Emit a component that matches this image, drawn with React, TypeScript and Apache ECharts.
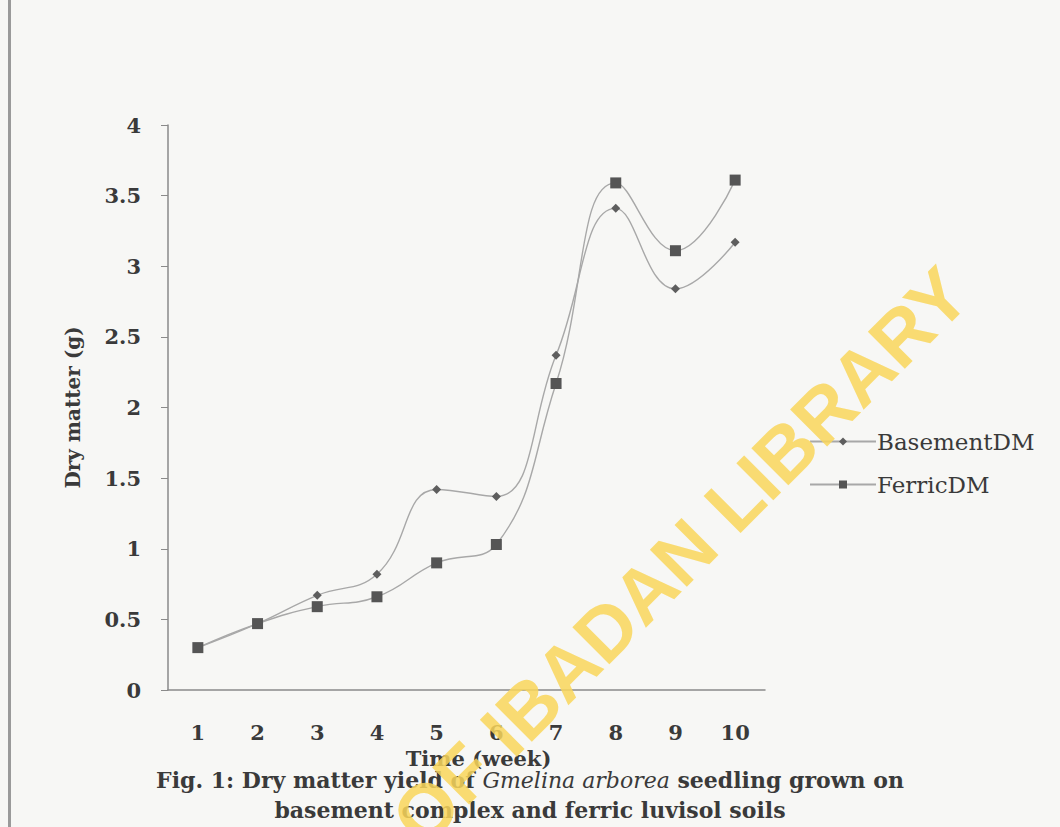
import React, { useEffect, useRef } from "react";
import * as echarts from "echarts";

const weeks = ["1", "2", "3", "4", "5", "6", "7", "8", "9", "10"];
const basementDM = [0.3, 0.47, 0.67, 0.82, 1.42, 1.37, 2.37, 3.41, 2.84, 3.17];
const ferricDM = [0.3, 0.47, 0.59, 0.66, 0.9, 1.03, 2.17, 3.59, 3.11, 3.61];
const seriesNames = ["BasementDM", "FerricDM"];

const serif = "'DejaVu Serif', 'Liberation Serif', serif";
const ink = "#3a3a3a";

export default function App() {
  const ref = useRef<HTMLDivElement>(null);
  useEffect(() => {
    if (!ref.current) return;
    const chart = echarts.init(ref.current, null, { renderer: "svg" });
    chart.setOption({
      animation: false,
      backgroundColor: "#f7f7f5",
      grid: { left: 168, right: 295, top: 125, bottom: 137, containLabel: false },
      legend: {
        orient: "vertical",
        left: 804,
        top: 425,
        itemGap: 20,
        itemWidth: 66,
        itemHeight: 10,
        data: seriesNames,
        textStyle: { fontFamily: serif, fontSize: 23, color: ink, padding: [0, 0, 0, -4] },
      },
      xAxis: {
        type: "category",
        data: weeks,
        boundaryGap: true,
        name: "Time (week)",
        nameLocation: "middle",
        nameGap: 48,
        nameTextStyle: {
          fontFamily: serif,
          fontSize: 21,
          fontWeight: "bold",
          color: ink,
          padding: [0, 0, 0, 24],
        },
        axisLine: { lineStyle: { color: "#8a8a8a", width: 1.5 } },
        axisTick: { show: false },
        axisLabel: { fontFamily: serif, fontSize: 21, fontWeight: "bold", color: ink, margin: 32 },
        splitLine: { show: false },
      },
      yAxis: {
        type: "value",
        min: 0,
        max: 4,
        interval: 0.5,
        name: "Dry matter (g)",
        nameLocation: "middle",
        nameGap: 85,
        nameRotate: 90,
        nameTextStyle: { fontFamily: serif, fontSize: 20, fontWeight: "bold", color: ink },
        axisLine: { show: true, lineStyle: { color: "#8a8a8a", width: 1.5 } },
        axisTick: { show: true, length: 7, lineStyle: { color: "#8a8a8a" } },
        axisLabel: { fontFamily: serif, fontSize: 21, fontWeight: "bold", color: ink, margin: 27 },
        splitLine: { show: false },
      },
      series: [
        {
          name: seriesNames[0],
          type: "line",
          data: basementDM,
          smooth: 0.45,
          symbol: "diamond",
          symbolSize: 9,
          itemStyle: { color: "#5e5e5e" },
          lineStyle: { color: "#a8a8a8", width: 1.4 },
        },
        {
          name: seriesNames[1],
          type: "line",
          data: ferricDM,
          smooth: 0.45,
          symbol: "rect",
          symbolSize: 11,
          itemStyle: { color: "#555" },
          lineStyle: { color: "#a8a8a8", width: 1.4 },
        },
      ],
      graphic: [
        {
          type: "rect",
          left: 8,
          top: 0,
          shape: { width: 3, height: 827 },
          style: { fill: "#9a9a9a" },
          silent: true,
        },
        {
          type: "text",
          left: "center",
          top: 769,
          style: {
            text: "{b|Fig. 1: Dry matter yield of }{i|Gmelina arborea}{b| seedling grown on}",
            rich: {
              b: { fontFamily: serif, fontSize: 22, fontWeight: "bold", fill: ink },
              i: { fontFamily: serif, fontSize: 22, fontStyle: "italic", fill: ink },
            },
          },
        },
        {
          type: "text",
          left: "center",
          top: 799,
          style: {
            text: "basement complex and ferric luvisol soils",
            fontFamily: serif,
            fontSize: 22,
            fontWeight: "bold",
            fill: ink,
          },
        },
        {
          type: "text",
          x: 680,
          y: 556,
          rotation: 0.785,
          z: 100,
          style: {
            text: "OF IBADAN LIBRARY",
            fontFamily: "'Liberation Sans', Arial, sans-serif",
            fontSize: 76,
            fontWeight: "bold",
            fill: "rgba(249, 214, 90, 0.85)",
            align: "center",
            verticalAlign: "middle",
          },
          silent: true,
        },
      ],
    });
    return () => chart.dispose();
  }, []);
  return (
    <div
      ref={ref}
      style={{ position: "fixed", left: 0, top: 0, width: 1060, height: 827 }}
    />
  );
}
